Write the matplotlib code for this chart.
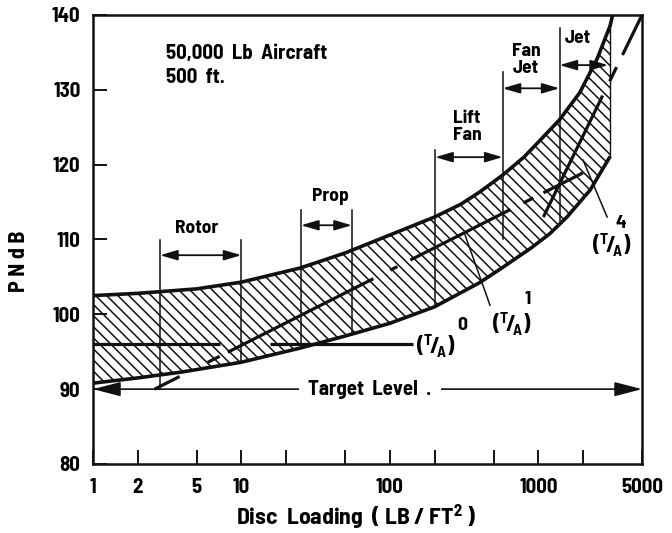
import matplotlib
matplotlib.use('Agg')
import matplotlib.pyplot as plt
from matplotlib.ticker import NullLocator, FixedLocator, FixedFormatter

MAIN = 'Barlow Semi Condensed'
plt.rcParams['font.family'] = [MAIN, 'DejaVu Sans']
plt.rcParams['font.weight'] = 'bold'
plt.rcParams['axes.labelweight'] = 'bold'
plt.rcParams['mathtext.fontset'] = 'custom'
plt.rcParams['mathtext.rm'] = MAIN + ':bold'
plt.rcParams['mathtext.it'] = MAIN + ':bold'
plt.rcParams['mathtext.bf'] = MAIN + ':bold'
plt.rcParams['hatch.linewidth'] = 1.1
plt.rcParams['hatch.color'] = 'black'
plt.rcParams['lines.scale_dashes'] = False

# ---------------- data ----------------
upper_x = [1, 2, 5, 10, 25, 50, 100, 200, 300, 400, 575, 800, 1000, 1390, 1900, 2500, 3050, 3170]
upper_y = [102.5, 102.8, 103.4, 104.3, 106.2, 108.2, 110.6, 113.0, 114.7, 116.3, 118.6, 121.0,
           123.0, 126.0, 129.6, 134.2, 138.6, 140.0]

lower_x = [1, 2, 4, 10, 25, 50, 100, 200, 400, 550, 900, 1200, 1560, 2235, 3050]
lower_y = [90.8, 91.5, 92.3, 93.6, 95.5, 97.1, 98.8, 101.0, 104.2, 106.0, 108.9, 110.8, 113.0,
           116.6, 121.1]

band_end = 3050

ta0_x = [1, 143]
ta0_y = [96, 96]
ta1_x = [2.6, 2000]
ta1_y = [90, 118.9]
ta4_x = [1082, 5000]
ta4_y = [113.0, 140.0]

target_level = 90

# categories: name, left, right, arrow level, label position
cat_names = ['Rotor', 'Prop', 'Lift\nFan', 'Fan\nJet', 'Jet']
cat_left = [2.83, 25.2, 202, 575, 1390]
cat_right = [10, 55.5, 575, 1390, 2950]
cat_arrow_y = [107.9, 111.9, 121.0, 130.2, 133.3]
cat_label_x = [5.02, 39.5, 331, 830, 1854]
cat_label_y = [111.5, 115.7, 125.0, 134.0, 136.9]

# boundary lines: x, top, bottom
bound_x = [2.83, 10, 25.2, 55.5, 202, 575, 1390]
bound_top = [109.9, 109.9, 113.9, 113.9, 122.0, 132.4, 138.2]
bound_bot = [90.0, 93.7, 95.5, 97.4, 101.0, 110.0, 112.5]

xtick_vals = [1, 2, 5, 10, 20, 50, 100, 200, 500, 1000, 2000, 5000]
xtick_labels = ['1', '2', '5', '10', '', '', '100', '', '', '1000', '', '5000']
ytick_vals = [80, 90, 100, 110, 120, 130, 140]

# ---------------- figure ----------------
fig = plt.figure(figsize=(6.72, 5.33), dpi=100)
ax = fig.add_axes([0.1384, 0.1295, 0.8170, 0.8424])
ax.set_xscale('log')
ax.set_xlim(1, 5000)
ax.set_ylim(80, 140)

K = '#111111'

# hatched band
n_up = len([v for v in upper_x if v <= band_end])
poly_x = upper_x[:n_up] + lower_x[::-1]
poly_y = upper_y[:n_up] + lower_y[::-1]
ax.fill(poly_x, poly_y, facecolor='white', edgecolor=K, hatch='\\\\\\',
        linewidth=0, zorder=1)
ax.plot(upper_x, upper_y, color=K, lw=2.6, zorder=4, solid_capstyle='butt')
ax.plot(lower_x, lower_y, color=K, lw=2.6, zorder=4, solid_capstyle='butt')
ax.plot([band_end, band_end], [lower_y[-1], upper_y[n_up - 1]], color=K, lw=1.0, zorder=3)

# T/A lines
ax.plot(ta0_x, ta0_y, color=K, lw=2.3, zorder=5, dash_capstyle='butt',
        linestyle=(0, (91.4, 36, 300, 10)))
ax.plot(ta1_x, ta1_y, color=K, lw=2.3, zorder=5, dash_capstyle='butt',
        linestyle=(0, (20.2, 22.6, 9.7, 6.5, 117.4, 13.7, 5.7, 10.5,
                       80.6, 10.5, 8.1, 8.1, 80, 10)))
ax.plot(ta4_x, ta4_y, color=K, lw=2.3, zorder=5, dash_capstyle='butt',
        linestyle=(0, (97.3, 11.4, 11.4, 9.7, 80, 10)))

# boundary verticals
for bx, bt, bb in zip(bound_x, bound_top, bound_bot):
    ax.plot([bx, bx], [bb, bt], color=K, lw=1.1, zorder=3)

# category arrows and labels
for name, l, r, ay, lx, ly in zip(cat_names, cat_left, cat_right, cat_arrow_y,
                                  cat_label_x, cat_label_y):
    ax.annotate('', xy=(r, ay), xytext=(l, ay),
                arrowprops=dict(arrowstyle='<|-|>,head_length=0.75,head_width=0.22',
                                color=K, lw=1.3, shrinkA=0, shrinkB=0,
                                mutation_scale=14), zorder=6)
    ax.text(lx, ly, name, ha='center', va='center', fontsize=14,
            linespacing=1.0, zorder=6)

# Target level
ax.text(73.5, target_level, 'Target  Level  .', ha='center', va='center',
        fontsize=15, zorder=7,
        bbox=dict(boxstyle='square,pad=0.45', facecolor='white', edgecolor='none'))
ax.annotate('', xy=(5000, target_level), xytext=(1, target_level),
            arrowprops=dict(arrowstyle='<|-|>,head_length=0.85,head_width=0.22',
                            color=K, lw=1.2, shrinkA=0, shrinkB=0,
                            mutation_scale=20), zorder=2)

# T/A labels
ta_lab = r'$(^{T}\!/\!_{A})$'
ax.text(205, 95.75, ta_lab, ha='center', va='center', fontsize=16, zorder=7)
ax.text(307, 98.55, '0', ha='center', va='center', fontsize=14, zorder=7)
ax.text(666, 98.6, ta_lab, ha='center', va='center', fontsize=16, zorder=7)
ax.text(853, 102.0, '1', ha='center', va='center', fontsize=14, zorder=7)
ax.text(3142, 109.25, ta_lab, ha='center', va='center', fontsize=16, zorder=7)
ax.text(3614, 112.2, '4', ha='center', va='center', fontsize=14, zorder=7)

# leaders
ax.plot([321, 473], [110.6, 101.2], color=K, lw=1.1, zorder=6)
ax.plot([2004, 2909], [120.6, 113.0], color=K, lw=1.1, zorder=6)

# header text
ax.text(3.1, 134.8, '50,000  Lb  Aircraft', ha='left', va='center', fontsize=15)
ax.text(3.1, 131.6, '500  ft.', ha='left', va='center', fontsize=15)

# axes styling
ax.xaxis.set_major_locator(FixedLocator(xtick_vals))
ax.xaxis.set_major_formatter(FixedFormatter(xtick_labels))
ax.xaxis.set_minor_locator(NullLocator())
ax.set_yticks(ytick_vals)
ax.tick_params(axis='both', direction='in', length=10, width=1.3, labelsize=15)
ax.tick_params(axis='x', pad=10)
ax.tick_params(axis='y', pad=9)
for s in ax.spines.values():
    s.set_linewidth(1.8)
    s.set_color(K)

fig.text(356 / 672, 1 - 517 / 533, 'Disc  Loading  ( LB / FT$^{2}$ )',
         ha='center', va='center', fontsize=17)
fig.text(19 / 672, 1 - 261 / 533, 'P N d B', ha='center', va='center',
         rotation=90, fontsize=16)

fig.savefig('out.png', dpi=100)
